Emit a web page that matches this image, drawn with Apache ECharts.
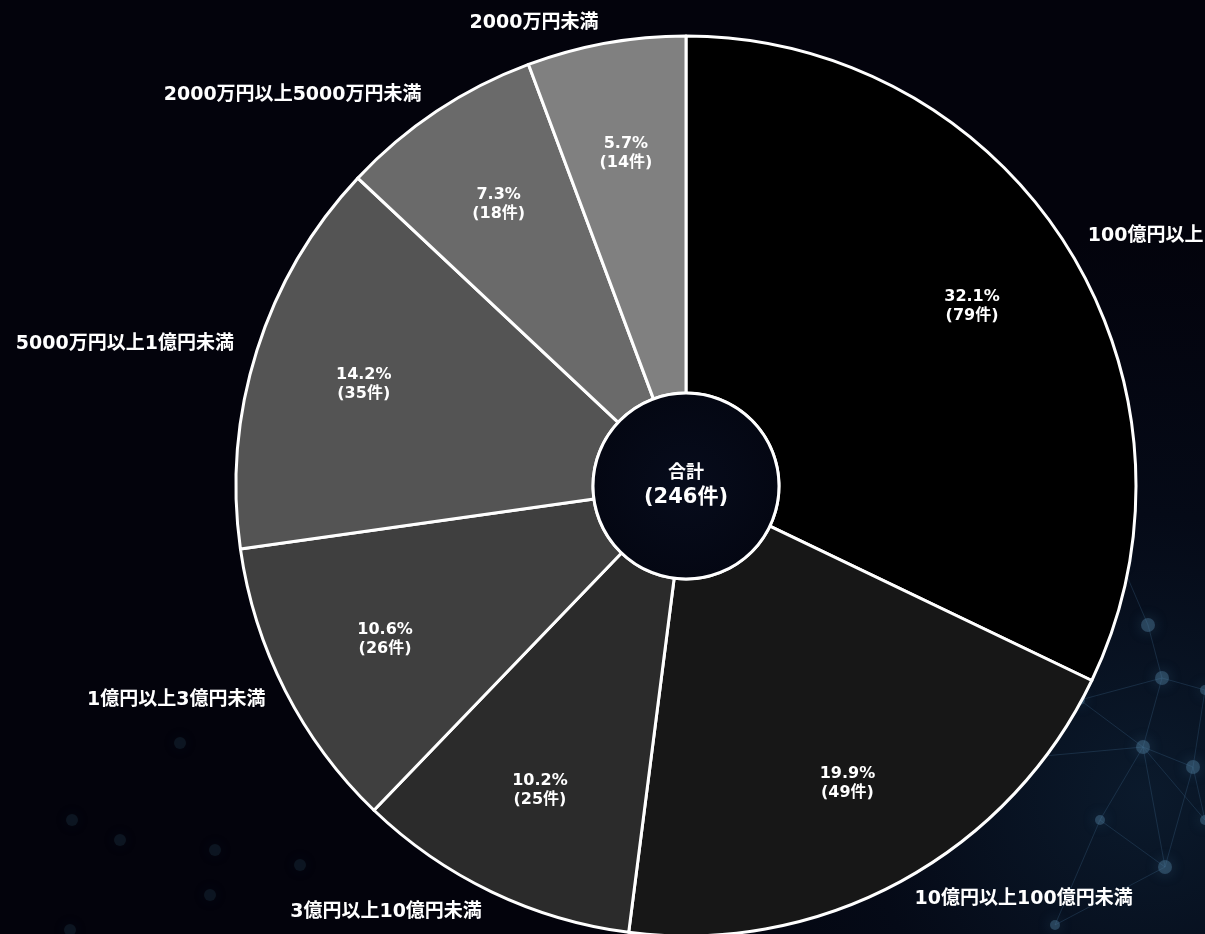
<!DOCTYPE html>
<html lang="ja">
<head>
<meta charset="utf-8">
<title>資本金規模別の件数</title>
<script src="https://cdn.jsdelivr.net/npm/echarts@6/dist/echarts.min.js"></script>
<style>
  html, body { margin: 0; padding: 0; background: #03030c; }
  #chart { width: 1205px; height: 934px; }
</style>
</head>
<body>
<div id="chart"></div>
<script>
// Capital-size categories, clockwise from 12 o'clock
const categories = [
  '100億円以上',
  '10億円以上100億円未満',
  '3億円以上10億円未満',
  '1億円以上3億円未満',
  '5000万円以上1億円未満',
  '2000万円以上5000万円未満',
  '2000万円未満'
];
// Number of cases per category
const counts = [79, 49, 25, 26, 35, 18, 14];
// Slice fills, darkest for the largest bracket
const sliceColors = ['#000000', '#171717', '#2b2b2b', '#3f3f3f', '#545454', '#6a6a6a', '#808080'];

const total = counts.reduce((a, b) => a + b, 0);
// wide Latin digits, Japanese glyphs from the CJK face
const FONT = '"DejaVu Sans", "Noto Sans CJK JP", sans-serif';
const CENTER = [686, 486];
const R = 450;
const HOLE = 93;

// small nudges for the outer names near the bottom edge
const nameNudge = { 2: [3, 2], 3: [2, 0] };

const pieData = categories.map((name, i) => ({
  name: name,
  value: counts[i],
  itemStyle: { color: sliceColors[i] }
}));

// decorative network in the backdrop
const nodes = [
  [1143, 747], [1193, 767], [1162, 678], [1165, 867], [1148, 625],
  [1055, 925], [1205, 820], [1120, 560], [1080, 700], [1205, 690],
  [1000, 760], [1100, 820]
];
const links = [
  [0, 1], [0, 2], [0, 3], [0, 8], [0, 10], [0, 6], [1, 6], [1, 9],
  [2, 4], [2, 9], [3, 5], [3, 11], [0, 11], [4, 7], [2, 8], [1, 3],
  [8, 10], [11, 5]
];
const decor = [];
links.forEach(([a, b]) => {
  decor.push({
    type: 'line', silent: true, z: -10,
    shape: { x1: nodes[a][0], y1: nodes[a][1], x2: nodes[b][0], y2: nodes[b][1] },
    style: { stroke: 'rgba(70,120,160,0.25)', lineWidth: 1 }
  });
});
nodes.forEach((p, i) => {
  decor.push({
    type: 'circle', silent: true, z: -9,
    shape: { cx: p[0], cy: p[1], r: i < 5 ? 7 : 5 },
    style: { fill: 'rgba(75,120,150,0.45)', shadowBlur: 14, shadowColor: 'rgba(80,140,180,0.6)' }
  });
});
[[72, 820], [120, 840], [215, 850], [180, 743], [210, 895], [70, 930], [345, 735], [300, 865]].forEach(p => {
  decor.push({
    type: 'circle', silent: true, z: -9,
    shape: { cx: p[0], cy: p[1], r: 6 },
    style: { fill: 'rgba(40,70,90,0.25)', shadowBlur: 14, shadowColor: 'rgba(40,80,110,0.45)' }
  });
});

const chart = echarts.init(document.getElementById('chart'), null, { renderer: 'canvas' });
chart.setOption({
  backgroundColor: {
    type: 'radial', x: 0.95, y: 0.85, r: 0.6,
    colorStops: [
      { offset: 0, color: '#0b1a2c' },
      { offset: 0.5, color: '#050a17' },
      { offset: 1, color: '#03030c' }
    ]
  },
  animation: false,
  graphic: decor,
  series: [
    {
      // slices with the category names outside
      type: 'pie',
      center: CENTER,
      radius: [HOLE, R],
      startAngle: 90,
      clockwise: true,
      avoidLabelOverlap: false,
      data: pieData,
      itemStyle: { borderColor: '#ffffff', borderWidth: 3 },
      label: {
        show: true,
        position: 'outside',
        formatter: '{b}',
        color: '#ffffff',
        fontFamily: FONT,
        fontWeight: 'bold',
        fontSize: 19,
        distanceToLabelLine: 4
      },
      labelLine: { show: false, length: 20, length2: 0 },
      labelLayout: function (p) {
        const n = nameNudge[p.dataIndex];
        return n ? { dx: n[0], dy: n[1] } : {};
      },
      emphasis: { disabled: true }
    },
    {
      // share and count printed inside each slice
      type: 'pie',
      center: CENTER,
      radius: [220, R],
      startAngle: 90,
      clockwise: true,
      silent: true,
      z: 3,
      data: categories.map((name, i) => ({ name: name, value: counts[i] })),
      itemStyle: { color: 'rgba(0,0,0,0)', borderWidth: 0 },
      label: {
        show: true,
        position: 'inside',
        formatter: p => (p.value / total * 100).toFixed(1) + '%\n(' + p.value + '件)',
        color: '#ffffff',
        fontFamily: FONT,
        fontWeight: 'bold',
        fontSize: 16,
        lineHeight: 19
      },
      labelLine: { show: false },
      emphasis: { disabled: true }
    },
    {
      // total in the middle
      type: 'pie',
      center: CENTER,
      radius: [0, HOLE],
      silent: true,
      z: 4,
      data: [{ name: '合計', value: total }],
      itemStyle: {
        color: {
          type: 'radial', x: 0.5, y: 0.5, r: 0.7,
          colorStops: [{ offset: 0, color: '#070c1c' }, { offset: 1, color: '#03050f' }]
        },
        borderColor: '#ffffff', borderWidth: 3
      },
      label: {
        show: true,
        position: 'center',
        formatter: p => '{a|' + p.name + '}\n{b|(' + p.value + '件)}',
        rich: {
          a: { color: '#ffffff', fontFamily: FONT, fontWeight: 'bold', fontSize: 18, lineHeight: 24 },
          b: { color: '#ffffff', fontFamily: FONT, fontWeight: 'bold', fontSize: 21, lineHeight: 26 }
        }
      },
      labelLine: { show: false },
      emphasis: { disabled: true }
    }
  ]
});
</script>
</body>
</html>
